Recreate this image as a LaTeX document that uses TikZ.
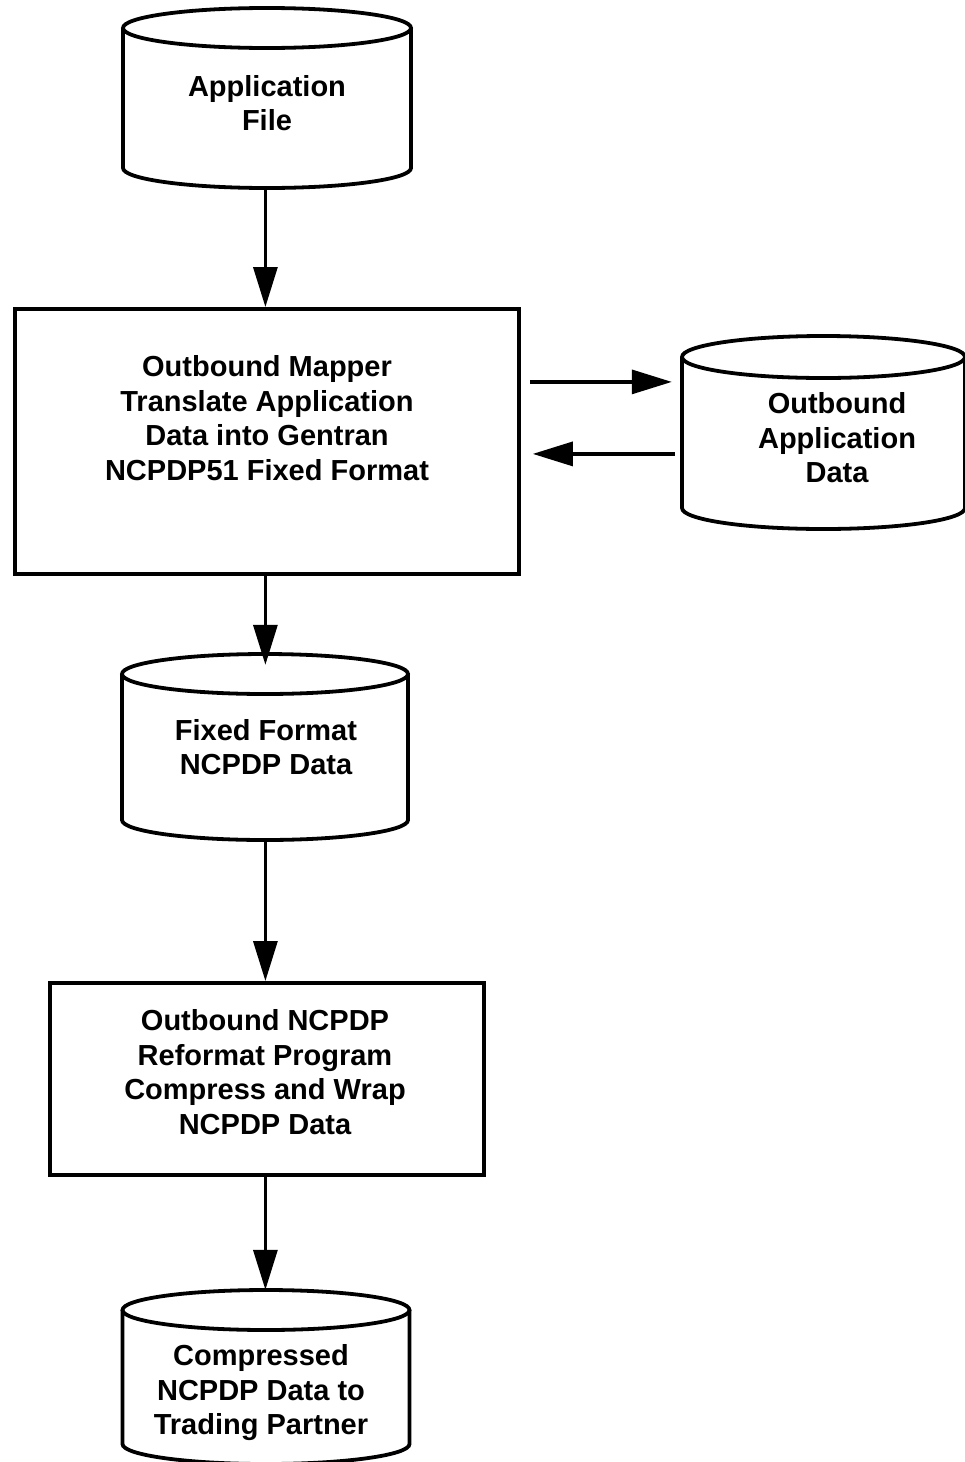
\documentclass[tikz,border=0pt]{standalone}
\usepackage{fontspec}
\setmainfont{Liberation Sans}
\usetikzlibrary{arrows.meta,fit}
\newcommand\dbcyl[6]{% name, cx, y top centre, y bottom centre, rx, ry
  \draw[shapeline] (#2-#5,#3) -- (#2-#5,#4) arc (180:0:#5 and #6) -- (#2+#5,#3);
  \draw[shapeline] (#2,#3) ellipse (#5 and #6);
  \node[fit={(#2-#5,#3-#6) (#2+#5,#4+#6)}, inner sep=0pt, draw=none] (#1) {};
}
\tikzset{
  shapeline/.style={line width=3.8pt},
  boxshape/.style={draw, line width=3.8pt, inner sep=0pt},
  txt/.style={align=center, font=\fontsize{29}{34.5}\selectfont\bfseries, inner sep=0pt},
  arr/.style={line width=3.2pt, -{Triangle[length=40pt,width=24pt]}}
}
\begin{document}
\begin{tikzpicture}[x=1pt,y=-1pt]
\useasboundingbox (0,0) rectangle (965,1462);

% Application File
\dbcyl{af}{267}{28}{168}{144}{20}
\node[txt] (aft) at (267,103) {Application\\File};

% Outbound Mapper box
\node[boxshape, minimum width=504pt, minimum height=265pt, anchor=north west] (b1) at (13,307) {};
\node[txt] (b1t) at (267,418) {Outbound Mapper\\Translate Application\\Data into Gentran\\NCPDP51 Fixed Format};

% Outbound Application Data
\dbcyl{oad}{823.5}{357}{508}{141.5}{21}
\node[txt] (oadt) at (837,438) {Outbound\\Application\\Data};

% Fixed Format NCPDP Data
\dbcyl{ff}{265}{674}{820}{143}{20}
\node[txt] (fft) at (266,747) {Fixed Format\\NCPDP Data};

% Reformat box
\node[boxshape, minimum width=434pt, minimum height=192pt, anchor=north west] (b2) at (48,981) {};
\node[txt] (b2t) at (265,1072) {Outbound NCPDP\\Reformat Program\\Compress and Wrap\\NCPDP Data};

% Compressed NCPDP Data
\dbcyl{cnd}{266}{1310}{1444}{143.5}{20}
\node[txt] (cndt) at (261,1393) {Compressed\\NCPDP Data to\\Trading Partner};

% vertical connectors
\coordinate (vx) at ([xshift=-1.5pt]b1.north);
\draw[arr] (af.south -| vx) -- (b1.north -| vx);
\draw[arr, shorten >=-11pt] (b1.south -| vx) -- (ff.north -| vx);
\draw[arr] (ff.south -| vx) -- (b2.north -| vx);
\draw[arr] (b2.south -| vx) -- (cnd.north -| vx);

% horizontal connectors
\coordinate (uy) at ([yshift=59.5pt]b1.east);
\coordinate (ly) at ([yshift=-12.5pt]b1.east);
\draw[arr, shorten <=9pt, shorten >=10pt] (uy) -- (uy -| oad.west);
\draw[arr, shorten <=7pt, shorten >=12pt] (ly -| oad.west) -- (ly);
\end{tikzpicture}
\end{document}
